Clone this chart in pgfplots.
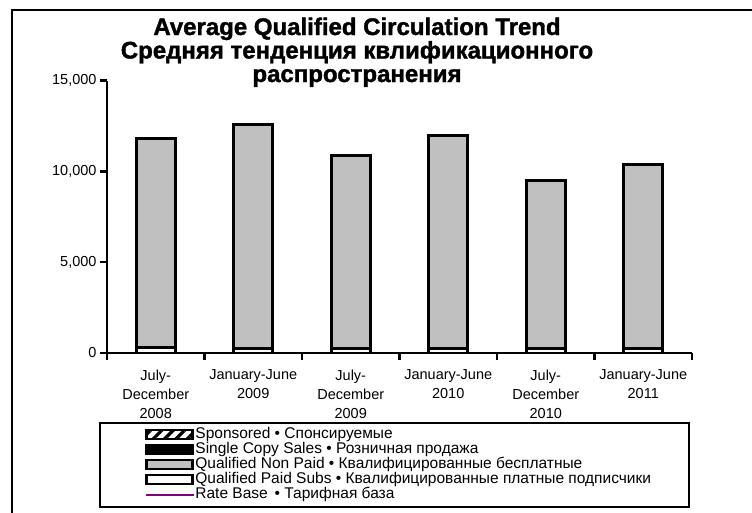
\documentclass[border=0pt]{standalone}
\usepackage{fontspec}
\setmainfont{Liberation Sans}
\newfontfamily\titlefont{Liberation Sans}[FakeStretch=1.0, FakeBold=1.5]
\usepackage{pgfplots}
\pgfplotsset{compat=1.18}
\usetikzlibrary{patterns,patterns.meta}
\definecolor{npgray}{HTML}{C0C0C0}
\definecolor{ratebase}{HTML}{800080}
\pgfplotsset{
  mybarlegend/.style={legend image code/.code={\draw[##1, line width=2.4bp] (0bp,-4.5bp) rectangle (46bp,4.5bp);}},
  mylinelegend/.style={legend image code/.code={\draw[##1] (0bp,0bp) -- (48bp,0bp);}},
}

\begin{document}
\begin{tikzpicture}
\useasboundingbox (0,0) rectangle (752bp,-513bp);
\clip (0,0) rectangle (752bp,-513bp);
\draw[line width=2.6bp] (12bp,-530bp) -- (12bp,-10bp) -- (770bp,-10bp);
\node[font=\titlefont\bfseries\fontsize{24bp}{25bp}\selectfont, anchor=base, inner sep=0pt] at (357bp,-35bp) {Average Qualified Circulation Trend};
\node[font=\titlefont\bfseries\fontsize{24bp}{25bp}\selectfont, anchor=base, inner sep=0pt] at (357bp,-58.5bp) {Средняя тенденция квлификационного};
\node[font=\titlefont\bfseries\fontsize{24bp}{25bp}\selectfont, anchor=base, inner sep=0pt] at (357bp,-82bp) {распространения};
\draw[line width=2.4bp] (100bp,-423bp) rectangle (689bp,-507bp);
\begin{axis}[
  at={(107bp,-353bp)}, anchor=south west,
  scale only axis, width=585bp, height=272.5bp,
  xmin=-0.5, xmax=5.5, ymin=0, ymax=15000,
  ybar stacked, bar width=39bp,
  axis x line*=bottom, axis y line*=left,
  axis line style={line width=2.4bp, -},
  xtick={0,...,5},
  xticklabels={{July-\\December\\2008},{January-June\\2009},{July-\\December\\2009},{January-June\\2010},{July-\\December\\2010},{January-June\\2011}},
  major x tick style={draw=none},
  minor xtick={-0.5,0.5,...,5.5},
  ytick={0,5000,10000,15000},
  scaled y ticks=false,
  tick align=outside,
  major tick length=7bp, minor tick length=7bp,
  every tick/.style={line width=2.4bp, black},
  xticklabel style={font=\fontsize{14.5bp}{19bp}\selectfont, align=center, yshift=-6bp},
  yticklabel style={font=\fontsize{14.5bp}{17bp}\selectfont, /pgf/number format/.cd, fixed, 1000 sep={,}},
  /pgf/number format/assume math mode=true,
  legend style={draw=none, fill=none, at={(0.065,-0.2716)}, anchor=north west,
    font=\fontsize{15.5bp}{15bp}\selectfont, row sep=0pt, inner sep=0pt,
    nodes={inner sep=0pt, text height=11bp, text depth=4bp, anchor=west}},
  legend cell align=left, reverse legend,
  /tikz/every even column/.append style={column sep=3bp},
]
\addlegendimage{draw=ratebase, line width=2bp, mylinelegend}
\addlegendentry{Rate Base \,• Тарифная база}
\addplot+[draw=black, fill=white, line width=3bp, mybarlegend] coordinates {(0,330) (1,260) (2,260) (3,260) (4,270) (5,270)};
\addlegendentry{Qualified Paid Subs • Квалифицированные платные подписчики}
\addplot+[draw=black, fill=npgray, line width=3bp, mybarlegend] coordinates {(0,11500) (1,12340) (2,10630) (3,11690) (4,9240) (5,10110)};
\addlegendentry{Qualified Non Paid • Квалифицированные бесплатные}
\addplot+[draw=black, fill=black, line width=3bp, mybarlegend] coordinates {(0,0) (1,0) (2,0) (3,0) (4,0) (5,0)};
\addlegendentry{Single Copy Sales • Розничная продажа}
\addplot+[draw=black, fill=white, pattern={Lines[angle=45,distance=8bp,line width=3.2bp]}, pattern color=black, line width=3bp, mybarlegend] coordinates {(0,0) (1,0) (2,0) (3,0) (4,0) (5,0)};
\addlegendentry{Sponsored • Спонсируемые}
\end{axis}
\end{tikzpicture}
\end{document}
